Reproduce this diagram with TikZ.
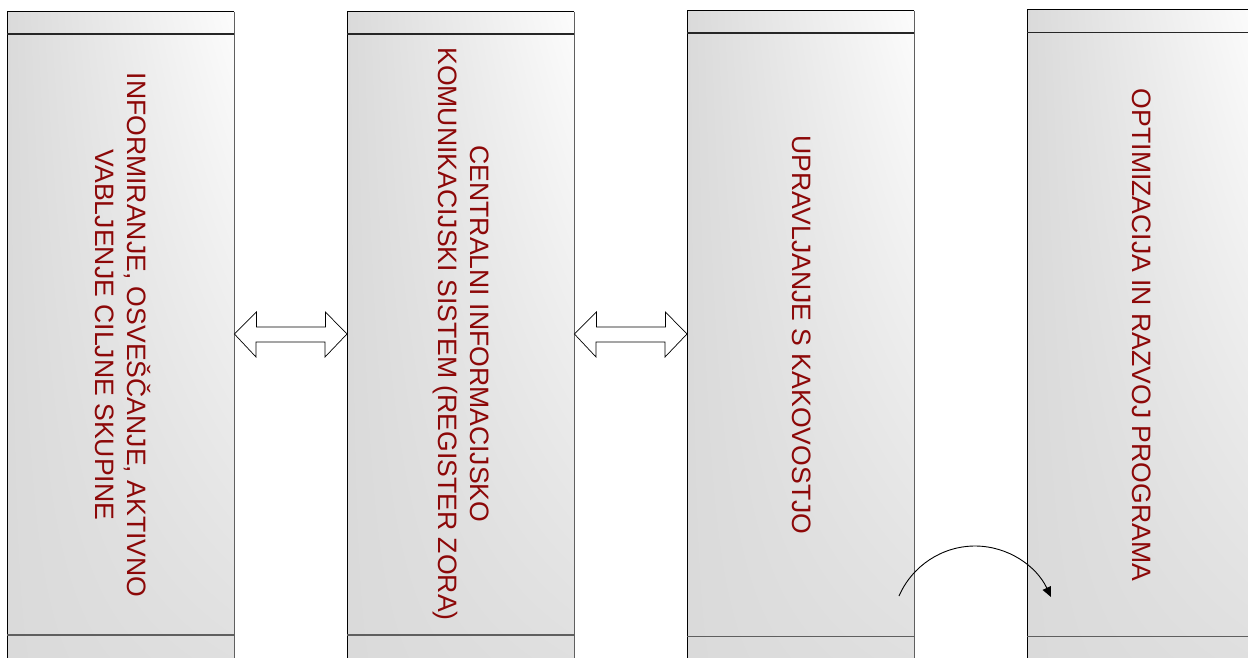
\documentclass[tikz,border=0pt]{standalone}
\usepackage{fontspec}
\setmainfont{Liberation Sans}
\usetikzlibrary{arrows.meta,calc,shadings}
\definecolor{txtred}{RGB}{140,8,8}
\definecolor{edgegray}{RGB}{95,95,95}
\definecolor{shUL}{RGB}{218,218,218}
\definecolor{shUR}{RGB}{252,252,252}
\definecolor{shLL}{RGB}{218,218,218}
\definecolor{shLR}{RGB}{222,222,222}
\begin{document}
\begin{tikzpicture}[x=1pt,y=-1pt,
  colbox/.style={rectangle, draw=none, inner sep=0pt, minimum width=227pt, minimum height=680pt,
    upper left=shUL, upper right=shUR, lower left=shLL, lower right=shLR},
  leftedge/.style={draw=black, line width=1pt},
  rightedge/.style={draw=edgegray, line width=1.6pt},
  headline/.style={draw=black!85, line width=1.3pt},
  footline/.style={draw=edgegray, line width=1.8pt},
  dblarrow/.style={draw=black, fill=white, line width=0.7pt, line join=miter},
  lbl/.style={rotate=-90, align=center, text=txtred, inner sep=0pt,
    font=\fontsize{26.6}{32}\selectfont},
  curvearrow/.style={draw=black, line width=0.9pt, -{Triangle[length=10pt,width=9pt]}}
]
\path[use as bounding box, clip] (0,0) rectangle (1248,657);

\foreach \n/\xl/\yt/\yh/\yb in {c1/7/11.5/34/635, c2/347/11.5/34/635, c3/687/10.5/33/636.5, c4/1027/9.5/32.5/636.5}{
  \node[colbox, anchor=north west] (\n) at (\xl,\yt) {};
  \draw[leftedge] (\n.south west) -- (\n.north west) -- (\n.north east);
  \draw[rightedge] (\n.north east) -- (\n.south east);
  \draw[headline] (\n.west |- 0,\yh) -- (\n.east |- 0,\yh);
  \draw[footline] (\n.west |- 0,\yb) -- (\n.east |- 0,\yb);
}

% double arrows between columns
\draw[dblarrow] (c1.east |- 0,334) -- ++(22,-22) -- ++(0,15) -- ++(69,0) -- ++(0,-15)
  -- (c2.west |- 0,334) -- ++(-22,23) -- ++(0,-15) -- ++(-69,0) -- ++(0,15) -- cycle;
\draw[dblarrow] (c2.east |- 0,334) -- ++(22,-22) -- ++(0,15) -- ++(69,0) -- ++(0,-15)
  -- (c3.west |- 0,334) -- ++(-22,23) -- ++(0,-15) -- ++(-69,0) -- ++(0,15) -- cycle;

% labels
\node[lbl] (t1) at (122.5,335) {INFORMIRANJE, OSVEŠČANJE, AKTIVNO\\VABLJENJE CILJNE SKUPINE};
\node[lbl] (t2) at (461.5,334) {CENTRALNI INFORMACIJSKO\\KOMUNIKACIJSKI SISTEM (REGISTER ZORA)};
\node[lbl] (t3) at (802,335) {UPRAVLJANJE S KAKOVOSTJO};
\node[lbl] (t4) at (1142,335) {OPTIMIZACIJA IN RAZVOJ PROGRAMA};

% curved arrow
\coordinate (cs) at (899,596);
\coordinate (ce) at (1051,597);
\draw[curvearrow] (cs) .. controls (912,566) and (942,546) .. (975,546)
  .. controls (1008,546) and (1036.5,566) .. (ce);
\end{tikzpicture}
\end{document}
